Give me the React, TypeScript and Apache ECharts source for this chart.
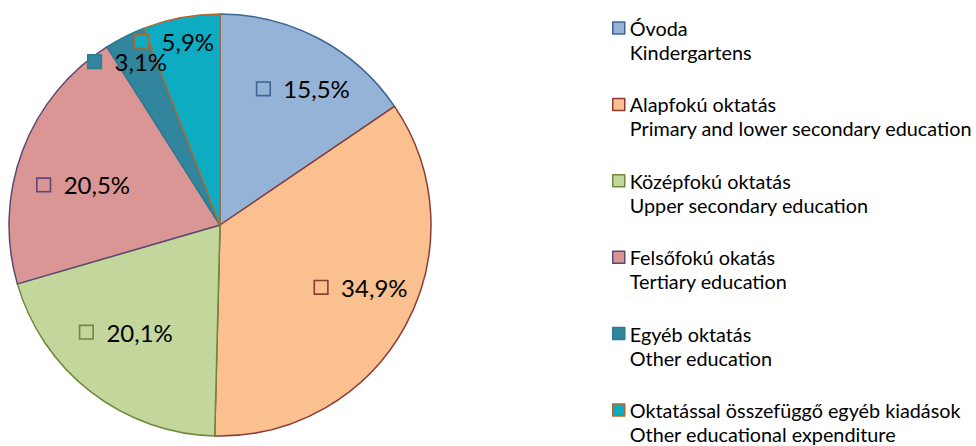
import React, { useEffect, useRef } from 'react';
import * as echarts from 'echarts';

const categories = [
  'Óvoda',
  'Alapfokú oktatás',
  'Középfokú oktatás',
  'Felsőfokú okatás',
  'Egyéb oktatás',
  'Oktatással összefüggő egyéb kiadások',
];
const englishNames = [
  'Kindergartens',
  'Primary and lower secondary education',
  'Upper secondary education',
  'Tertiary education',
  'Other education',
  'Other educational expenditure',
];
const shares = [15.5, 34.9, 20.1, 20.5, 3.1, 5.9];
// slices whose labels sit near the rim (each drawn by its own label layer)
const rimLabelled = ['Egyéb oktatás', 'Oktatással összefüggő egyéb kiadások'];

const FILLS = ['#95B3D7', '#FAC090', '#C3D69B', '#D99694', '#31859C', '#0DACC3'];
const BORDERS = ['#3E6496', '#8E3B38', '#70883E', '#5D4777', '#2E7C91', '#B0692F'];
// small "best fit" label nudges (style only), per slice, in px
const LABEL_NUDGE: [number, number][] = [
  [12, -1],
  [7, -11],
  [0, -14],
  [7, 14],
  [-6, 7],
  [-10, 4],
];
const FONT = 'Lato, "Open Sans", sans-serif';

const fmt = (v: number) => v.toFixed(1).replace('.', ',') + '%';

export default function App() {
  const ref = useRef<HTMLDivElement>(null);
  useEffect(() => {
    document.body.style.margin = '0';
    if (!ref.current) return;
    const chart = echarts.init(ref.current, undefined, { renderer: 'svg' });

    const rich: Record<string, any> = {
      v: { fontSize: 24, fontFamily: FONT, color: '#000', padding: [0, 0, 0, 14] },
    };
    FILLS.forEach((c, i) => {
      rich['m' + i] = {
        width: 12,
        height: 12,
        backgroundColor: c,
        borderColor: BORDERS[i],
        borderWidth: 1.6,
      };
    });

    const labelFormatter = (p: any) => `{m${p.dataIndex}|}{v|${fmt(p.value)}}`;

    const baseData = categories.map((name, i) => ({
      name,
      value: shares[i],
      itemStyle: { color: FILLS[i], borderColor: BORDERS[i], borderWidth: 1.5 },
    }));

    const overlay = (radius: number, shown: (name: string) => boolean) => ({
      type: 'pie',
      center: [220, 225],
      radius: [0, radius],
      startAngle: 90,
      silent: true,
      z: 5,
      avoidLabelOverlap: false,
      labelLayout: (p: any) => ({
        dx: LABEL_NUDGE[p.dataIndex][0],
        dy: LABEL_NUDGE[p.dataIndex][1],
        hideOverlap: false,
      }),
      emphasis: { disabled: true },
      data: categories.map((name, i) => ({
        name,
        value: shares[i],
        itemStyle: { color: 'rgba(0,0,0,0)', borderWidth: 0 },
        label: { show: shown(name) },
      })),
      label: { position: 'inside', formatter: labelFormatter, rich },
      labelLine: { show: false },
    });

    const legendRich = {
      h: { height: 24, lineHeight: 24 },
      t: { fontFamily: FONT, fontSize: 19.8, lineHeight: 24, color: '#000' },
    };

    chart.setOption({
      animation: false,
      legend: {
        orient: 'vertical',
        left: 612,
        top: -8,
        height: 700,
        padding: 0,
        itemWidth: 12,
        itemHeight: 12,
        itemGap: 4.4,
        icon: 'rect',
        selectedMode: false,
        data: categories.map((name, i) => ({
          name,
          itemStyle: { color: FILLS[i], borderColor: BORDERS[i], borderWidth: 1.5 },
        })),
        formatter: (name: string) =>
          `{h|}\n{t|${name}}\n{t|${englishNames[categories.indexOf(name)]}}`,
        textStyle: {
          fontFamily: FONT,
          fontSize: 19.8,
          lineHeight: 24,
          color: '#000',
          rich: legendRich,
        },
      },
      series: [
        {
          type: 'pie',
          center: [220, 225],
          radius: [0, 211],
          startAngle: 90,
          data: baseData,
          label: { show: false },
          labelLine: { show: false },
          emphasis: { disabled: true },
        },
        overlay(300, (n) => !rimLabelled.includes(n)),
        overlay(376, (n) => n === rimLabelled[0]),
        overlay(376, (n) => n === rimLabelled[1]),
      ],
    });
    return () => chart.dispose();
  }, []);
  return (
    <div
      ref={ref}
      style={{ position: 'fixed', left: 0, top: 0, width: 976, height: 446, background: '#fff' }}
    />
  );
}
